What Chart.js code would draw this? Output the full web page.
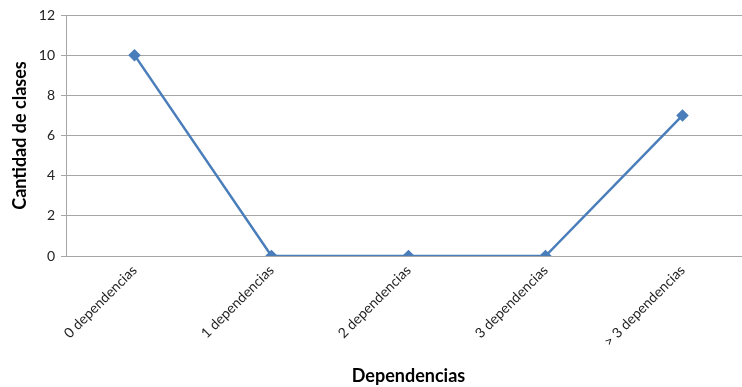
<!DOCTYPE html>
<html>
<head>
<meta charset="utf-8">
<style>
  html, body { margin: 0; padding: 0; background: #fff; overflow: hidden; }
  #wrap { width: 758px; height: 387px; }
</style>
<script src="https://cdn.jsdelivr.net/npm/chart.js@4/dist/chart.umd.min.js"></script>
</head>
<body>
<div id="wrap"><canvas id="c" width="758" height="387"></canvas></div>
<script>
const categories = ['0 dependencias', '1 dependencias', '2 dependencias', '3 dependencias', '> 3 dependencias'];
const clases = [10, 0, 0, 0, 7];
const yTicks = [0, 2, 4, 6, 8, 10, 12];

const FONT = "Lato, 'Open Sans', sans-serif";

new Chart(document.getElementById('c'), {
  type: 'line',
  data: {
    labels: categories,
    datasets: [{
      data: clases,
      borderColor: '#4a7ebb',
      backgroundColor: '#4a7ebb',
      borderWidth: 2.5,
      pointStyle: 'rectRot',
      pointRadius: 4.5,
      pointHoverRadius: 4.5,
      tension: 0
    }]
  },
  options: {
    responsive: false,
    animation: false,
    devicePixelRatio: 1,
    layout: { padding: { top: 15, left: 0, right: 0, bottom: 0 } },
    plugins: { legend: { display: false }, tooltip: { enabled: false } },
    scales: {
      x: {
        offset: true,
        grid: { display: false, drawTicks: false },
        border: { display: true, color: '#a6a6a6', width: 1 },
        ticks: {
          maxRotation: 45, minRotation: 45, autoSkip: false,
          padding: 6,
          color: '#222', font: { family: FONT, size: 14 }
        },
        title: {
          display: true, text: 'Dependencias',
          color: '#000', font: { family: FONT, size: 18, weight: 'bold' },
          padding: { top: 6, bottom: 0 }
        },
        afterFit: (s) => { s.height = 131; }
      },
      y: {
        min: 0, max: 12,
        afterBuildTicks: (s) => { s.ticks = yTicks.map(v => ({ value: v })); },
        grid: { color: '#a6a6a6', lineWidth: 1, tickLength: 5, drawTicks: true },
        border: { display: true, color: '#a6a6a6', width: 1 },
        ticks: {
          padding: 6,
          color: '#222', font: { family: FONT, size: 14 }
        },
        title: {
          display: true, text: 'Cantidad de clases',
          color: '#000', font: { family: FONT, size: 18, weight: 'bold' },
          padding: { top: 9, bottom: 4 }
        },
        afterFit: (s) => { s.width = 66; }
      }
    }
  }
});
</script>
</body>
</html>
